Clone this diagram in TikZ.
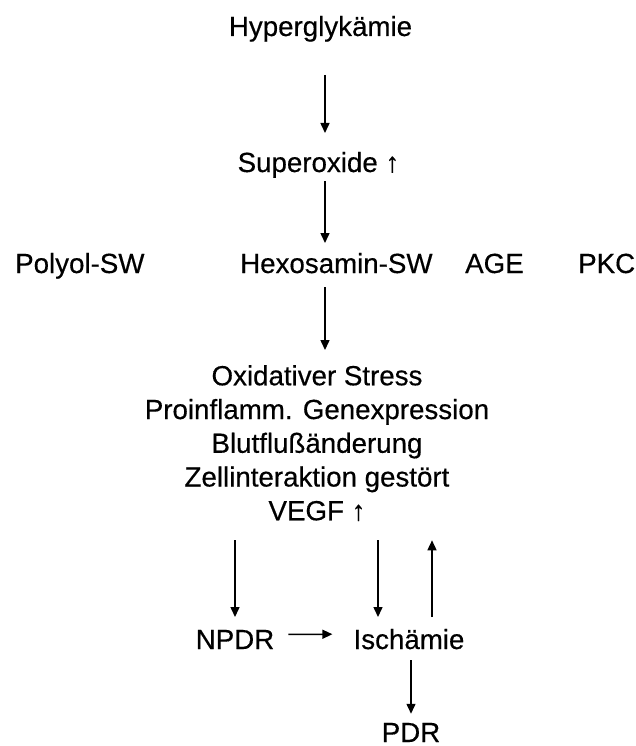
\documentclass[tikz,border=0pt]{standalone}
\usepackage{fontspec}
\setmainfont[FakeBold=0.4]{Liberation Sans}
\usetikzlibrary{arrows.meta}

\begin{document}
\begin{tikzpicture}[x=1pt, y=-1pt,
  lbl/.style={inner sep=0pt, anchor=base, font=\fontsize{27.7}{33.75}\selectfont},
  arr/.style={-{Triangle[length=10pt,width=9pt]}, line width=1.5pt}]

\useasboundingbox (0,0) rectangle (636,746);

\node[lbl] at (320.5,36) (hyp) {Hyperglykämie};
\node[lbl] at (318.5,172) (sup) {Superoxide ↑};

\node[lbl, anchor=base west] at (15,273) (polyol) {Polyol-SW};
\node[lbl, anchor=base west] at (240,273) (hexo) {Hexosamin-SW};
\node[lbl, anchor=base west] at (465,273) (age) {AGE};
\node[lbl, anchor=base west] at (578,273) (pkc) {PKC};

\node[lbl, anchor=north, align=center] at (317,365) (block) {
  Oxidativer Stress\\
  Proinflamm. Genexpression\\
  Blutflußänderung\\
  Zellinteraktion gestört\\
  VEGF ↑
};

\node[lbl] at (235,649) (npdr) {NPDR};
\node[lbl] at (409,649) (isch) {Ischämie};
\node[lbl] at (411,742) (pdr) {PDR};

\coordinate (axis) at (325,0);
\coordinate (down) at (378,0);
\coordinate (up) at (432,0);

\draw[arr, shorten <=39pt, shorten >=39pt] (hyp.base -| axis) -- (sup.base -| axis);
\draw[arr, shorten <=9pt, shorten >=30pt] (sup.base -| axis) -- (hexo.base -| axis);
\draw[arr, shorten <=14pt, shorten >=15pt] (hexo.base -| axis) -- (block.north -| axis);
\draw[arr, shorten <=19pt, shorten >=32pt] (block.south -| npdr) -- (npdr.base);
\draw[arr, shorten <=19pt, shorten >=32pt] (block.south -| down) -- (isch.base -| down);
\draw[arr, shorten <=32pt, shorten >=19pt] (isch.base -| up) -- (block.south -| up);
\draw[arr, shorten <=14pt, shorten >=21pt] ([yshift=5pt]npdr.east) -- ([yshift=5pt]isch.west);
\draw[arr, shorten <=11pt, shorten >=9pt] (isch.south -| pdr) -- (pdr.north);
\end{tikzpicture}
\end{document}
